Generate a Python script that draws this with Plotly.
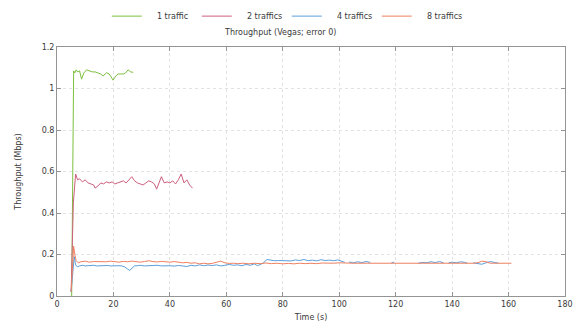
import plotly.graph_objects as go

# Throughput over time for TCP Vegas (error rate 0), by number of concurrent traffics.
SERIES_NAMES = ["1 traffic", "2 traffics", "4 traffics", "8 traffics"]
SERIES_COLORS = ["#7dbf3f", "#cc5f7c", "#5b9fdc", "#ee8060"]

t_1 = [5.2, 5.9, 6.3, 6.8, 7.3, 8.0, 8.7, 9.5, 10.5, 11.5, 12.5, 13.5, 14.5, 15.5,
       16.3, 17.0, 17.6, 18.5, 19.9, 20.8, 21.7, 22.6, 23.5, 24.3, 25.2, 26.1, 27.0]
v_1 = [0.0, 1.085, 1.075, 1.09, 1.08, 1.085, 1.045, 1.075, 1.09, 1.085, 1.08, 1.08,
       1.075, 1.07, 1.06, 1.07, 1.076, 1.07, 1.04, 1.06, 1.07, 1.07, 1.07, 1.075,
       1.09, 1.08, 1.078]

t_2 = [5.0, 5.8, 6.6, 7.3, 8.0, 9.0, 10.0, 11.0, 12.0, 13.0, 13.5, 14.5, 15.5, 16.5,
       17.5, 18.5, 19.5, 20.5, 21.5, 22.5, 23.5, 24.5, 25.5, 26.5, 27.5, 28.5, 29.5,
       30.5, 31.5, 32.5, 33.5, 34.5, 35.3, 36.2, 37.0, 38.0, 39.0, 40.0, 41.0, 42.0,
       43.0, 44.0, 45.0, 46.0, 47.0, 48.0]
v_2 = [0.02, 0.45, 0.588, 0.56, 0.565, 0.55, 0.56, 0.545, 0.54, 0.535, 0.52, 0.53,
       0.545, 0.54, 0.55, 0.545, 0.55, 0.54, 0.545, 0.55, 0.555, 0.545, 0.56, 0.575,
       0.555, 0.545, 0.54, 0.535, 0.545, 0.555, 0.55, 0.54, 0.515, 0.55, 0.575, 0.545,
       0.55, 0.545, 0.555, 0.54, 0.56, 0.588, 0.545, 0.56, 0.535, 0.52]

t_4 = [5.0, 5.6, 6.1, 6.6, 7.2, 8, 9, 10, 11, 12, 13, 14, 15, 16, 17, 18, 19, 20, 21,
       22, 23, 24, 25, 25.8, 26.6, 27.5, 28.5, 29.5, 31, 32.5, 34, 35.5, 37, 38.5, 40,
       41.5, 43, 44.5, 46, 47.5, 49, 50.5, 52, 53.5, 55, 56.5, 58, 59.5, 61, 62.5, 64,
       65.5, 67, 68.5, 70, 71, 72, 73, 74.4, 75.5, 77, 78.5, 80, 81.5, 83, 84.5, 86,
       87.5, 89, 90.5, 92, 93.5, 95, 96.5, 98, 99.5, 101, 102, None,
       103.5, 105, 106.5, 108, 109.5, 111, None,
       118.5, 119.5, None,
       128, 129.5, 131, 132.5, 134, 135.5, 137, None,
       138.7, 140, 141.5, 143, 144.5, 145.4, None,
       147.5, 149, 150.5, 152, 153.5, 155, 156.4]
v_4 = [0.02, 0.12, 0.19, 0.15, 0.14, 0.145, 0.148, 0.145, 0.147, 0.146, 0.148, 0.145,
       0.146, 0.148, 0.146, 0.147, 0.145, 0.146, 0.148, 0.146, 0.145, 0.14, 0.13,
       0.123, 0.135, 0.145, 0.146, 0.148, 0.145, 0.147, 0.146, 0.148, 0.145, 0.147,
       0.146, 0.144, 0.147, 0.145, 0.142, 0.148, 0.145, 0.15, 0.146, 0.149, 0.147,
       0.15, 0.145, 0.148, 0.152, 0.148, 0.15, 0.146, 0.152, 0.148, 0.155, 0.146,
       0.152, 0.158, 0.176, 0.172, 0.17, 0.171, 0.17, 0.172, 0.169, 0.174, 0.171,
       0.176, 0.17, 0.173, 0.169, 0.175, 0.171, 0.173, 0.17, 0.174, 0.168, 0.162, None,
       0.164, 0.16, 0.165, 0.161, 0.166, 0.162, None,
       0.16, 0.163, None,
       0.158, 0.162, 0.16, 0.165, 0.161, 0.166, 0.16, None,
       0.159, 0.163, 0.16, 0.165, 0.162, 0.158, None,
       0.16, 0.157, 0.153, 0.16, 0.166, 0.162, 0.158]

t_8 = [5.0, 5.5, 5.9, 6.3, 6.8, 7.5, 8.5, 10, 11.5, 13, 14.5, 16, 17.5, 19, 20.5, 22,
       23.5, 25, 26.5, 28, 29.5, 31, 32.5, 34, 35.5, 37, 38.5, 40, 41.5, 43, 44.5, 46,
       47.5, 49, 50.5, 52, 53.5, 55, 56.5, 58, 59.5, 61, 62.5, 64, 66, 68, 70, 72, 74,
       76, 78, 80, 82, 84, 86, 88, 90, 92, 94, 96, 98, 100, 102, 105, 110, 120, 130,
       140, 148, 149.5, 150.5, 152, 153.5, 156, 161]
v_8 = [0.02, 0.15, 0.24, 0.2, 0.17, 0.16, 0.165, 0.168, 0.163, 0.166, 0.165, 0.167,
       0.165, 0.168, 0.166, 0.163, 0.167, 0.165, 0.168, 0.165, 0.163, 0.166, 0.17,
       0.166, 0.164, 0.167, 0.165, 0.163, 0.166, 0.163, 0.16, 0.162, 0.158, 0.16,
       0.155, 0.158, 0.155, 0.157, 0.162, 0.168, 0.16, 0.157, 0.158, 0.156, 0.158,
       0.155, 0.158, 0.156, 0.159, 0.156, 0.158, 0.155, 0.157, 0.155, 0.158, 0.156,
       0.158, 0.156, 0.159, 0.157, 0.158, 0.16, 0.158, 0.158, 0.158, 0.158, 0.158,
       0.158, 0.158, 0.162, 0.168, 0.165, 0.158, 0.158, 0.158]

X_TICKS = [0, 20, 40, 60, 80, 100, 120, 140, 160, 180]
Y_TICKS = [0, 0.2, 0.4, 0.6, 0.8, 1.0, 1.2]
Y_TICK_TEXT = ["0", "0.2", "0.4", "0.6", "0.8", "1", "1.2"]

FONT = "DejaVu Sans"
TEXT_COLOR = "#3a3a3a"
AXIS_COLOR = "#949494"
GRID_COLOR = "#e2e2e2"
PAD = "\u00a0\u00a0\u00a0\u00a0"  # widens the gap between legend sample and label

fig = go.Figure()
for name, color, t, v in zip(SERIES_NAMES, SERIES_COLORS,
                             [t_1, t_2, t_4, t_8], [v_1, v_2, v_4, v_8]):
    fig.add_trace(go.Scatter(x=t, y=v, mode="lines", name=PAD + name,
                             line=dict(color=color, width=1)))

axis_common = dict(
    showline=True, linecolor=AXIS_COLOR, linewidth=1, mirror="ticks",
    ticks="inside", ticklen=4, tickcolor=AXIS_COLOR,
    showgrid=True, gridcolor=GRID_COLOR, griddash="dot", gridwidth=1,
    zeroline=False, tickfont=dict(size=8, color=TEXT_COLOR, family=FONT),
)

fig.update_layout(
    width=576, height=326,
    margin=dict(l=57, r=11, t=47, b=30, autoexpand=False),
    paper_bgcolor="white", plot_bgcolor="white",
    font=dict(family=FONT, size=8, color=TEXT_COLOR),
    xaxis=dict(range=[0, 180], tickvals=X_TICKS,
               title=dict(text="Time (s)", font=dict(size=8), standoff=6),
               **axis_common),
    yaxis=dict(range=[0, 1.2], tickvals=Y_TICKS, ticktext=Y_TICK_TEXT,
               title=dict(text="Throughput (Mbps)", font=dict(size=8), standoff=18),
               **axis_common),
    legend=dict(orientation="h", x=0.098, xanchor="left", y=1.124, yanchor="middle",
                font=dict(size=8, color=TEXT_COLOR), bgcolor="rgba(0,0,0,0)",
                itemwidth=30, entrywidth=45, entrywidthmode="pixels",
                tracegroupgap=0),
    annotations=[dict(text="Throughput (Vegas; error 0)", xref="paper", yref="paper",
                      x=0.439, y=1.06, xanchor="center", yanchor="middle",
                      showarrow=False, font=dict(size=8, color=TEXT_COLOR))],
    showlegend=True,
)

fig.write_html("out.html")
